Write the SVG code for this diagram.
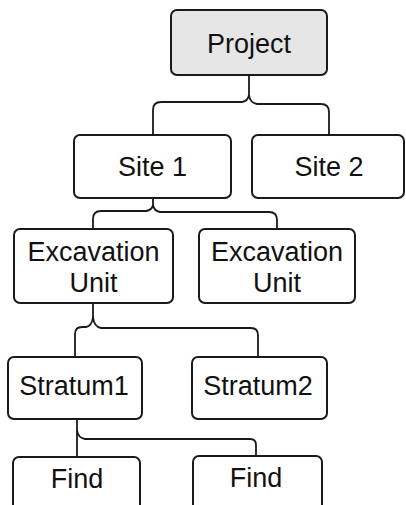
<svg xmlns="http://www.w3.org/2000/svg" width="406" height="505" viewBox="0 0 406 505">
<style>
.box{fill:#ffffff;stroke:#1a1a1a;stroke-width:2}
.root{fill:#e6e6e6}
.lbl{font-family:"Liberation Sans",Arial,sans-serif;font-size:27px;fill:#111;text-anchor:middle}
.conn{fill:none;stroke:#1a1a1a;stroke-width:1.8}
</style>
<rect width="406" height="505" fill="#ffffff"/>
<g id="connectors">
<path class="conn" d="M249,75 V95 Q248,101 242,102 H161 Q153,102 153,110 V135"/>
<path class="conn" d="M249,95 Q250,103 257,104 H321 Q329,104 329,112 V135"/>
<path class="conn" d="M153,198 V205 Q152,210 146,211 H101 Q93,211 93,219 V229"/>
<path class="conn" d="M153,205 Q154,211 160,212 H269 Q277,212 277,220 V229"/>
<path class="conn" d="M93,303 V317 Q92,326 86,327 H82 Q75,327 75,334 V357"/>
<path class="conn" d="M93,317 Q94,327 101,328 H251 Q258,328 258,335 V357"/>
<path class="conn" d="M77,419 V457"/>
<path class="conn" d="M77,430 Q78,438 85,439 H250 Q256,439 256,445 V456"/>
</g>
<g id="project"><rect class="box root" x="171" y="10" width="156" height="65" rx="6"/><text class="lbl" x="249" y="52.5">Project</text></g>
<g id="site1"><rect class="box" x="74" y="135" width="157" height="63" rx="6"/><text class="lbl" x="152.5" y="176">Site 1</text></g>
<g id="site2"><rect class="box" x="252" y="135" width="152" height="63" rx="6"/><text class="lbl" x="329" y="176">Site 2</text></g>
<g id="excavation1"><rect class="box" x="14" y="229" width="159" height="74" rx="6"/><text class="lbl" x="93.5" y="261">Excavation</text><text class="lbl" x="93.5" y="292">Unit</text></g>
<g id="excavation2"><rect class="box" x="199" y="229" width="156" height="74" rx="6"/><text class="lbl" x="277" y="261">Excavation</text><text class="lbl" x="277" y="292">Unit</text></g>
<g id="stratum1"><rect class="box" x="8" y="357" width="134" height="62" rx="6"/><text class="lbl" x="74" y="395">Stratum1</text></g>
<g id="stratum2"><rect class="box" x="192" y="357" width="135" height="62" rx="6"/><text class="lbl" x="258" y="395">Stratum2</text></g>
<g id="find1"><rect class="box" x="13" y="457" width="127" height="60" rx="6"/><text class="lbl" x="77" y="488">Find</text></g>
<g id="find2"><rect class="box" x="193" y="456" width="129" height="60" rx="6"/><text class="lbl" x="256" y="487">Find</text></g>
</svg>
